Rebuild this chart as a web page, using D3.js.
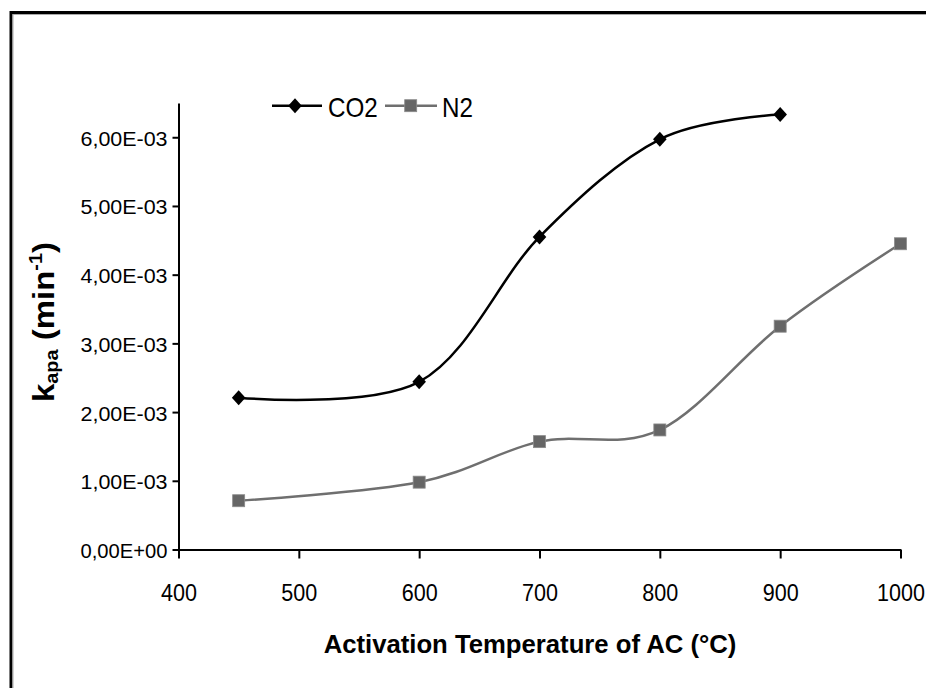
<!DOCTYPE html>
<html><head><meta charset="utf-8">
<script src="https://cdn.jsdelivr.net/npm/d3@7"></script>
<style>body{margin:0;background:#fff} svg{display:block} text{font-family:"Liberation Sans",Arial,sans-serif}</style>
</head><body><svg id="c" width="926" height="688"></svg>
<script>
// ---- data ----
const temperatures = [450, 600, 700, 800, 900, 1000];
const co2Values = [2.21e-3, 2.44e-3, 4.55e-3, 5.97e-3, 6.33e-3];
const n2Values = [0.71e-3, 0.98e-3, 1.57e-3, 1.74e-3, 3.25e-3, 4.45e-3];
const xTickValues = [400, 500, 600, 700, 800, 900, 1000];
const yTickValues = [0, 1e-3, 2e-3, 3e-3, 4e-3, 5e-3, 6e-3];
const yTickLabels = ["0,00E+00", "1,00E-03", "2,00E-03", "3,00E-03", "4,00E-03", "5,00E-03", "6,00E-03"];
const seriesNames = ["CO2", "N2"];
const xTitle = "Activation Temperature of AC (°C)";

// ---- setup ----
const svg = d3.select("#c");
svg.append("rect").attr("width", 926).attr("height", 688).attr("fill", "#fff");
svg.append("path").attr("d", "M11,688V12.5H926").attr("fill", "none").attr("stroke", "#000").attr("stroke-width", 3);
svg.append("path").attr("d", "M13,688V14.5H926").attr("fill", "none").attr("stroke", "#aaa").attr("stroke-width", 1);

const x = d3.scaleLinear().domain([400, 1000]).range([178.5, 900.5]);
const y = d3.scaleLinear().domain([0, 6.5e-3]).range([549.5, 102.9]);

// axes
const xAxis = svg.append("g").attr("transform", "translate(0,549.5)")
  .call(d3.axisBottom(x).tickValues(xTickValues).tickSize(9).tickSizeOuter(0).tickPadding(0).tickFormat(d3.format("d")));
const yAxis = svg.append("g").attr("transform", "translate(178.5,0)")
  .call(d3.axisLeft(y).tickValues(yTickValues).tickSize(6).tickSizeOuter(0).tickFormat((d, i) => yTickLabels[i]));

xAxis.attr("font-family", null).attr("font-size", "24.5");
yAxis.attr("font-family", null).attr("font-size", "20");
[xAxis, yAxis].forEach(g => {
  g.select(".domain").attr("stroke", "#000").attr("stroke-width", 2);
  g.selectAll(".tick line").attr("stroke", "#000").attr("stroke-width", 2);
});
xAxis.selectAll(".tick text").attr("y", 51.5).attr("dy", null)
  .attr("font-size", "24.5").style("font-size", "24.5px").attr("fill", "#000").attr("transform", "scale(0.88,1)");
yAxis.selectAll(".tick text").attr("x", -11).attr("dy", "0.4em")
  .attr("font-size", "20").style("font-size", "20px").attr("fill", "#000")
  .attr("textLength", 87).attr("lengthAdjust", "spacingAndGlyphs");

// lines
const line = d3.line().x(d => x(d[0])).y(d => y(d[1])).curve(d3.curveCardinal.tension(0));
const co2Data = co2Values.map((v, i) => [temperatures[i], v]);
const n2Data = n2Values.map((v, i) => [temperatures[i], v]);

const co2Color = "#000", n2Color = "#6f6f6f", n2Fill = "#666";
svg.append("path").datum(n2Data).attr("d", line).attr("fill", "none").attr("stroke", n2Color).attr("stroke-width", 2.5);
svg.append("path").datum(co2Data).attr("d", line).attr("fill", "none").attr("stroke", co2Color).attr("stroke-width", 2.5);

const diamond = "M0,-7.5L6.8,0L0,7.5L-6.8,0Z";
svg.append("g").selectAll("path").data(co2Data).join("path")
  .attr("d", diamond).attr("transform", d => `translate(${x(d[0])},${y(d[1])})`).attr("fill", co2Color);
svg.append("g").selectAll("rect").data(n2Data).join("rect")
  .attr("x", d => x(d[0]) - 6).attr("y", d => y(d[1]) - 6).attr("width", 12).attr("height", 12)
  .attr("fill", n2Fill).attr("stroke", "#8a8a8a").attr("stroke-width", 0.8);

// legend
const lg = svg.append("g");
lg.append("line").attr("x1", 272).attr("x2", 322).attr("y1", 105.7).attr("y2", 105.7).attr("stroke", co2Color).attr("stroke-width", 2.5);
lg.append("path").attr("d", diamond).attr("transform", "translate(295,105.7)").attr("fill", co2Color);
lg.append("text").attr("transform", "translate(328,117) scale(0.88,1)").attr("font-size", "27.5").text(seriesNames[0]);
lg.append("line").attr("x1", 385).attr("x2", 437).attr("y1", 105.7).attr("y2", 105.7).attr("stroke", n2Color).attr("stroke-width", 2.5);
lg.append("rect").attr("x", 410.7 - 6).attr("y", 105.7 - 6).attr("width", 12).attr("height", 12).attr("fill", n2Fill).attr("stroke", "#8a8a8a").attr("stroke-width", 0.8);
lg.append("text").attr("transform", "translate(442,117) scale(0.88,1)").attr("font-size", "27.5").text(seriesNames[1]);

// x title
svg.append("text").attr("x", 530).attr("y", 653).attr("text-anchor", "middle")
  .attr("font-size", "25.7").attr("font-weight", "bold").text(xTitle);

// y title
const yt = svg.append("g");
const t = yt.append("text").attr("text-anchor", "start").attr("font-weight", "bold").attr("font-size", "30");
t.append("tspan").text("k");
t.append("tspan").attr("dy", 4).attr("font-size", "18").text("apa");
t.append("tspan").attr("dy", -4).text(" (min");
t.append("tspan").attr("dy", -12).attr("font-size", "18").text("-1");
t.append("tspan").attr("dy", 12).text(")");
const len = t.node().getComputedTextLength();
const sx = 160 / len;
yt.attr("transform", `translate(54,402) rotate(-90) scale(${sx},1)`);
</script></body></html>
